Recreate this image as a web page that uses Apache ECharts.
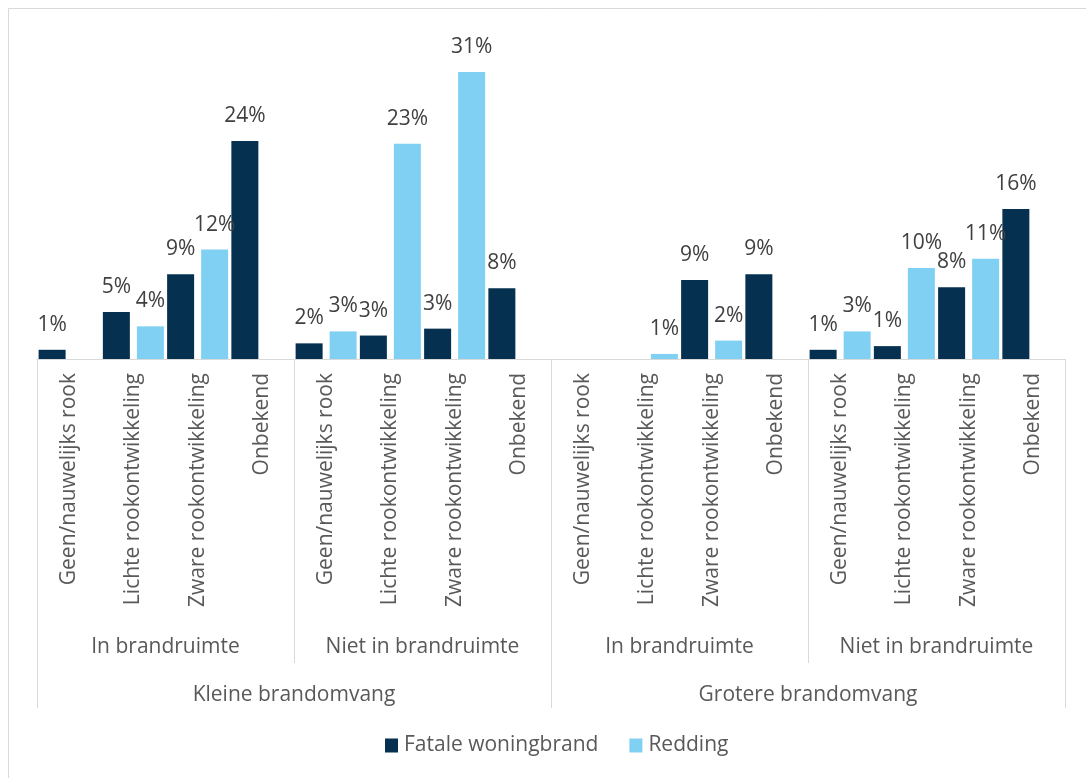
<!DOCTYPE html>
<html>
<head>
<meta charset="utf-8">
<style>
  html, body { margin: 0; padding: 0; background: #ffffff; }
  #chart { width: 1086px; height: 778px; }
</style>
<script src="https://cdn.jsdelivr.net/npm/echarts@6/dist/echarts.min.js"></script>
</head>
<body>
<div id="chart"></div>
<script>
// Smoke development per fire location, split by fire size
const smokeLevels = ['Geen/nauwelijks rook', 'Lichte rookontwikkeling', 'Zware rookontwikkeling', 'Onbekend'];
const locations = ['In brandruimte', 'Niet in brandruimte', 'In brandruimte', 'Niet in brandruimte'];
const fireSizes = ['Kleine brandomvang', 'Grotere brandomvang'];
const seriesNames = ['Fatale woningbrand', 'Redding'];

// Percentages, in the order of the 16 bottom-level categories
const fataleValues = [1.0, 5.1, 9.2, 23.7, 1.7, 2.55, 3.3, 7.7, null, null, 8.6, 9.2, 1.0, 1.4, 7.8, 16.3];
const reddingValues = [null, 3.55, 11.9, null, 3.0, 23.4, 31.2, null, null, 0.55, 2.0, null, 3.0, 9.9, 10.9, null];

const categories = [];
for (let i = 0; i < locations.length; i++) categories.push(...smokeLevels);

const FONT = '"Open Sans", sans-serif';
const LINE = '#d9d9d9';
const TEXT = '#595959';
const SIZE = 21;

const chart = echarts.init(document.getElementById('chart'), null, { renderer: 'canvas' });

const barLabel = {
  show: true,
  position: 'top',
  distance: 14,
  fontFamily: FONT,
  fontSize: SIZE,
  lineHeight: 22,
  color: '#404040',
  formatter: p => Math.round(p.value) + '%'
};

chart.setOption({
  animation: false,
  backgroundColor: '#ffffff',
  graphic: [{
    type: 'rect',
    shape: { x: 8.5, y: 8.5, width: 1100, height: 800 },
    style: { fill: 'none', stroke: LINE, lineWidth: 1 },
    silent: true
  }],
  grid: { left: 37, right: 21, top: 37, bottom: 419, containLabel: false },
  legend: {
    bottom: 17,
    left: 380,
    icon: 'rect',
    itemWidth: 13,
    itemHeight: 14,
    itemGap: 31,
    textStyle: { fontFamily: FONT, fontSize: SIZE, color: TEXT, padding: [0, 0, 0, 1] },
    data: seriesNames
  },
  xAxis: [
    {
      type: 'category',
      data: categories,
      position: 'bottom',
      axisLine: { show: true, lineStyle: { color: LINE, width: 1 } },
      axisTick: {
        show: true,
        length: 304,
        interval: (idx) => idx % 4 === 0,
        lineStyle: { color: LINE, width: 1 }
      },
      axisLabel: {
        interval: 0,
        rotate: 90,
        margin: 14,
        fontFamily: FONT,
        fontSize: SIZE,
        color: TEXT
      }
    },
    {
      type: 'category',
      data: locations,
      position: 'bottom',
      axisLine: { show: false },
      axisTick: {
        show: true,
        length: 349,
        interval: (idx) => idx % 2 === 0,
        lineStyle: { color: LINE, width: 1 }
      },
      axisLabel: {
        interval: 0,
        margin: 277,
        fontFamily: FONT,
        fontSize: SIZE,
        lineHeight: 22,
        color: TEXT
      }
    },
    {
      type: 'category',
      data: fireSizes,
      position: 'bottom',
      axisLine: { show: false },
      axisTick: { show: false },
      axisLabel: {
        interval: 0,
        margin: 325,
        fontFamily: FONT,
        fontSize: SIZE,
        lineHeight: 22,
        color: TEXT
      }
    }
  ],
  yAxis: {
    type: 'value',
    min: 0,
    max: 35,
    show: false,
    splitLine: { show: false }
  },
  series: [
    {
      name: seriesNames[0],
      type: 'bar',
      xAxisIndex: 0,
      data: fataleValues,
      barWidth: 27,
      barGap: '26%',
      itemStyle: { color: '#06304f' },
      label: barLabel
    },
    {
      name: seriesNames[1],
      type: 'bar',
      xAxisIndex: 0,
      data: reddingValues,
      barWidth: 27,
      barGap: '26%',
      itemStyle: { color: '#80d0f3' },
      label: barLabel
    }
  ]
});
</script>
</body>
</html>
